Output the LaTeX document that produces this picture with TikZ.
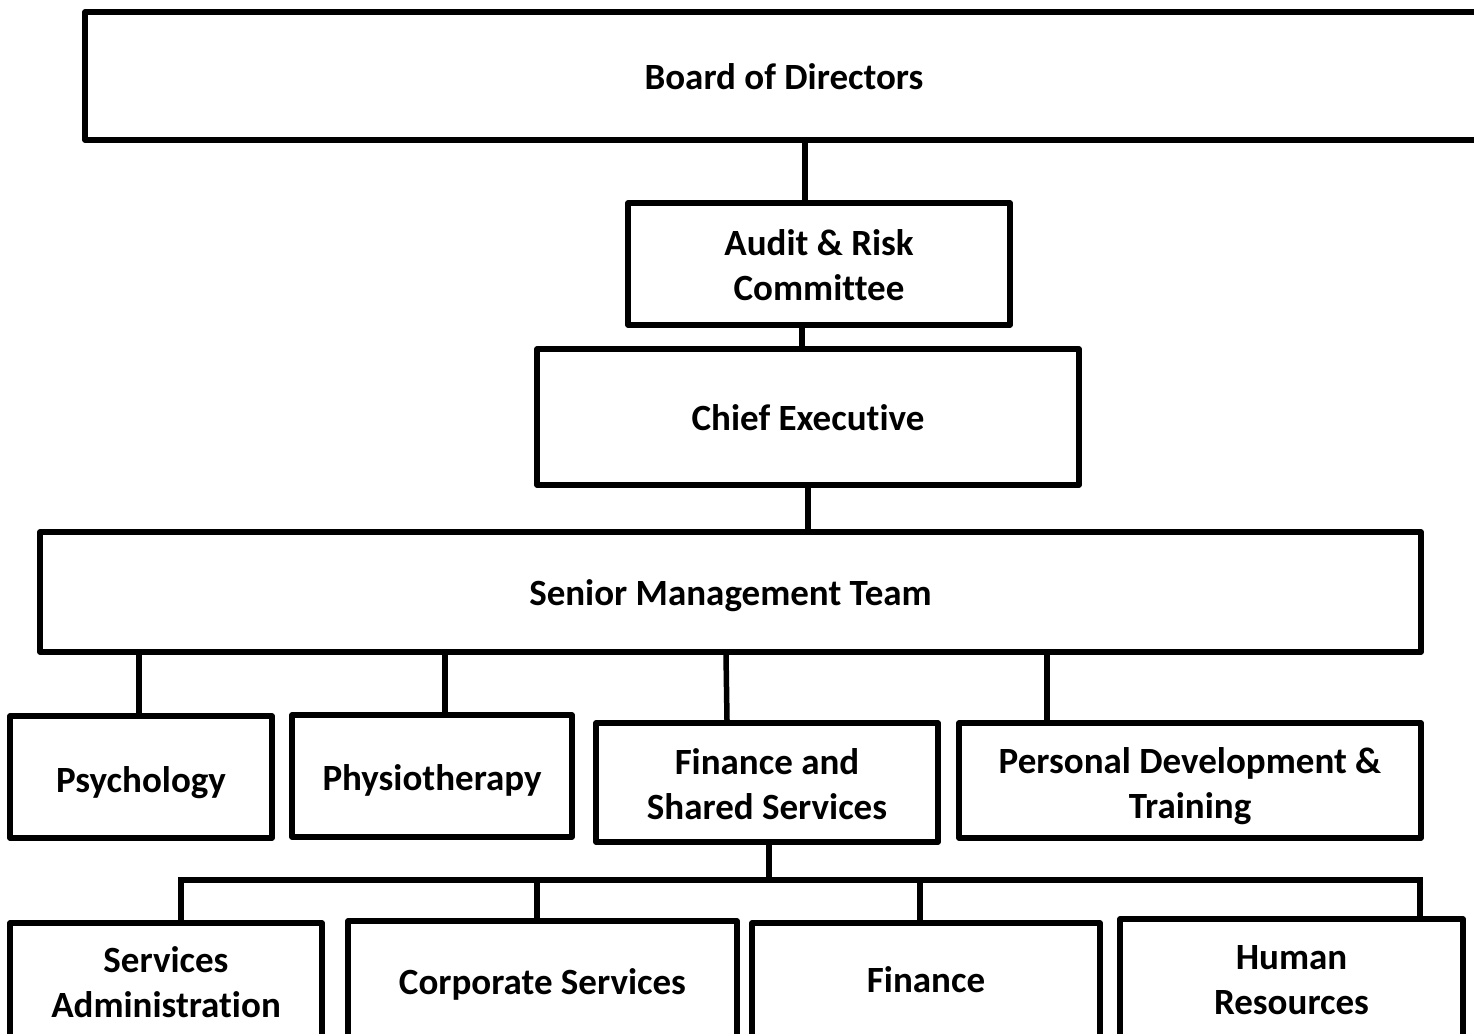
\documentclass[tikz,border=0pt]{standalone}
\usepackage{fontspec}
\setmainfont[Ligatures={NoCommon}]{Carlito}
\begin{document}
\begin{tikzpicture}[x=1pt,y=-1pt,
  box/.style={draw, line width=5.5pt, line join=round, inner sep=0pt},
  lbl/.style={align=center, inner sep=0pt, font=\bfseries\fontsize{37}{45}\selectfont},
  conn/.style={line width=5.5pt}]
\useasboundingbox (0,0) rectangle (1474,1033);
\clip (0,0) rectangle (1474,1033);
% boxes
\node[box, minimum width=1398pt, minimum height=128pt] (board) at (784,76) {};
\node[box, minimum width=382pt, minimum height=122pt] (audit) at (819,264) {};
\node[box, minimum width=542pt, minimum height=136pt] (chief) at (808,417) {};
\node[box, minimum width=1381pt, minimum height=120pt] (smt) at (730.5,592) {};
\node[box, minimum width=262pt, minimum height=122pt] (psych) at (141,777) {};
\node[box, minimum width=280pt, minimum height=122pt] (physio) at (432,776) {};
\node[box, minimum width=342pt, minimum height=119pt] (fss) at (767,782.5) {};
\node[box, minimum width=462pt, minimum height=115pt] (pdt) at (1190,780.5) {};
\node[box, minimum width=312pt, minimum height=127pt] (sa) at (166,986.5) {};
\node[box, minimum width=389pt, minimum height=129pt] (cs) at (542.5,985.5) {};
\node[box, minimum width=348pt, minimum height=127pt] (fin) at (926,986.5) {};
\node[box, minimum width=343pt, minimum height=131pt] (hr) at (1291.5,984.5) {};
% texts
\node[lbl] (boardT) at ([yshift=-1pt]board.center) {Board of Directors};
\node[lbl] (auditT) at ([yshift=-1.5pt]audit.center) {Audit \& Risk\\Committee};
\node[lbl] (chiefT) at ([yshift=-1pt]chief.center) {Chief Executive};
\node[lbl] (smtT) at ([yshift=-4pt]smt.center) {Senior Management Team};
\node[lbl] (psychT) at ([yshift=-6pt]psych.center) {Psychology};
\node[lbl] (physioT) at ([yshift=-4pt]physio.center) {Physiotherapy};
\node[lbl] (fssT) at ([yshift=-2pt]fss.center) {Finance and\\Shared Services};
\node[lbl] (pdtT) at ([yshift=-6pt]pdt.center) {Personal Development \&\\Training};
\node[lbl] (saT) at ([yshift=4pt]sa.center) {Services\\Administration};
\node[lbl] (csT) at ([yshift=1pt]cs.center) {Corporate Services};
\node[lbl] (finT) at ([yshift=7pt]fin.center) {Finance};
\node[lbl] (hrT) at ([yshift=4pt]hr.center) {Human\\Resources};
% connectors
\draw[conn] ([xshift=-14pt]audit.north) -- ([xshift=-14pt]audit.north |- board.south);
\draw[conn] ([xshift=-6pt]chief.north) -- ([xshift=-6pt]chief.north |- audit.south);
\draw[conn] (chief.south) -- (chief.south |- smt.north);
\draw[conn] ([xshift=-2pt]psych.north) -- ([xshift=-2pt]psych.north |- smt.south);
\draw[conn] ([xshift=13pt]physio.north) -- ([xshift=13pt]physio.north |- smt.south);
\draw[conn] ([xshift=-40pt]fss.north) -- ([xshift=-41pt]fss.north |- smt.south);
\draw[conn] ([xshift=-143pt]pdt.north) -- ([xshift=-143pt]pdt.north |- smt.south);
\coordinate (bar) at (0,880);
\draw[conn] ([xshift=2pt]fss.south) -- ([xshift=2pt]fss.south |- bar);
\draw[conn, line join=miter] (sa.north -| 181,0) |- (bar -| 1420,0) -- (hr.north -| 1420,0);
\draw[conn] ([xshift=-5.5pt]cs.north) -- ([xshift=-5.5pt]cs.north |- bar);
\draw[conn] ([xshift=-6pt]fin.north) -- ([xshift=-6pt]fin.north |- bar);
\end{tikzpicture}
\end{document}
